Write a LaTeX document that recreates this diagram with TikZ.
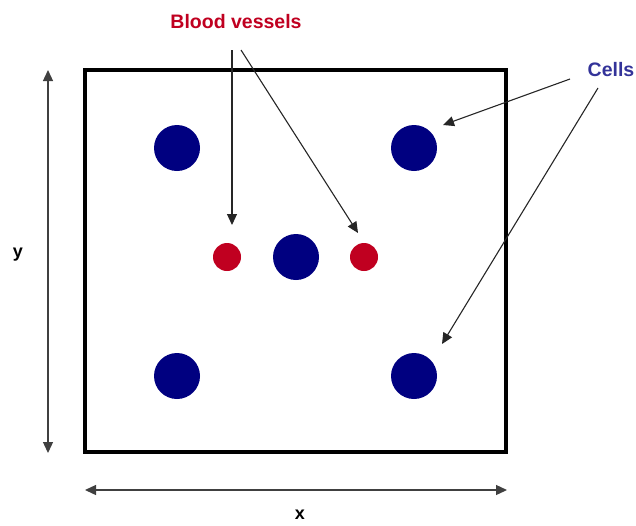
\documentclass[tikz,border=0pt]{standalone}
\usepackage{fontspec}
\setmainfont{Liberation Sans}
\usetikzlibrary{arrows.meta}
\definecolor{cellblue}{RGB}{0,0,128}
\definecolor{vesselred}{RGB}{192,0,32}
\definecolor{cellstext}{RGB}{51,51,153}
\tikzset{
  cell/.style={circle, fill=cellblue, inner sep=0pt, minimum size=46pt},
  vessel/.style={circle, fill=vesselred, inner sep=0pt, minimum size=28pt},
  pointer/.style={draw=black!85, line width=1.1pt, -{Triangle[length=11pt,width=10pt]}},
  dimarrow/.style={draw=black!75, line width=1.3pt, {Triangle[length=11pt,width=10pt]}-{Triangle[length=11pt,width=10pt]}},
  lbl/.style={font=\bfseries\fontsize{19.5}{22}\selectfont, inner sep=0pt}
}
\begin{document}
\begin{tikzpicture}[x=1pt,y=-1pt]
\useasboundingbox (0,0) rectangle (636,525);
\draw[line width=4pt] (85,70) rectangle (506,452);
\node[cell] (c1) at (177,148) {};
\node[cell] (c2) at (414,148) {};
\node[cell] (c3) at (296,257) {};
\node[cell] (c4) at (177,376) {};
\node[cell] (c5) at (414,376) {};
\node[vessel] (v1) at (227,257) {};
\node[vessel] (v2) at (364,257) {};
\node[lbl, text=vesselred] (bv) at (236,22) {Blood vessels};
\node[lbl, text=cellstext] (cl) at (611,70) {Cells};
\coordinate (bvs1) at (232,50);
\coordinate (bvs2) at (241,50);
\coordinate (bve1) at (232,225);
\coordinate (bve2) at (358,233);
\draw[pointer] (bvs1) -- (bve1);
\draw[pointer] (bvs2) -- (bve2);
\coordinate (cs1) at (570,79);
\coordinate (cs2) at (598,88);
\coordinate (ce1) at (443,125);
\coordinate (ce2) at (442,344);
\draw[pointer] (cs1) -- (ce1);
\draw[pointer] (cs2) -- (ce2);
\coordinate (ya) at (48,70);
\coordinate (yb) at (48,453);
\coordinate (xa) at (85,490);
\coordinate (xb) at (507,490);
\draw[dimarrow] (ya) -- (yb);
\draw[dimarrow] (xa) -- (xb);
\node[font=\bfseries\fontsize{18}{20}\selectfont, inner sep=0pt] (yl) at (18,255) {y};
\node[font=\bfseries\fontsize{18}{20}\selectfont, inner sep=0pt] (xl) at (300,515) {x};
\end{tikzpicture}
\end{document}
